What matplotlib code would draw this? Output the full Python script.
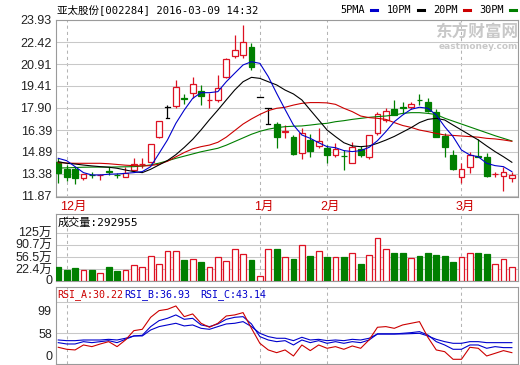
import matplotlib
matplotlib.use('Agg')
import matplotlib.pyplot as plt
from matplotlib.patches import Rectangle
from matplotlib.lines import Line2D

# daily candles, 2015-11-30 .. 2016-03-09
opens = [14.22, 13.70, 13.70, 13.08, 13.33, 13.29, 13.56, 13.33, 13.19, 13.65,
         14.04, 14.22, 15.94, 17.95, 18.04, 18.58, 18.91, 19.06, 18.42, 18.45,
         20.00, 21.49, 21.53, 22.06, 18.63, 17.88, 16.80, 16.26, 15.94, 14.79,
         15.71, 15.30, 15.14, 14.68, 14.63, 14.15, 15.07, 14.56, 16.16, 17.08,
         17.81, 17.97, 17.95, 18.47, 18.33, 17.65, 15.98, 14.68, 13.19, 13.83,
         14.58, 14.52, 13.36, 13.26, 13.13]
closes = [13.47, 13.19, 13.08, 13.38, 13.29, 13.33, 13.52, 13.29, 13.47, 14.06,
          14.08, 15.43, 17.01, 17.95, 19.36, 18.54, 19.52, 18.72, 18.47, 19.29,
          21.23, 21.87, 22.45, 20.73, 18.63, 17.88, 15.94, 16.30, 14.75, 16.16,
          14.98, 15.66, 14.68, 15.07, 14.59, 15.20, 14.68, 16.05, 17.46, 17.72,
          17.42, 17.93, 18.15, 18.43, 17.72, 15.94, 15.25, 13.72, 13.70, 14.68,
          14.54, 13.24, 13.40, 13.54, 13.31]
highs = [14.45, 13.99, 13.88, 13.38, 13.54, 13.38, 13.88, 13.47, 13.88, 14.45,
         14.45, 15.45, 17.01, 18.10, 19.82, 18.86, 20.00, 19.48, 18.91, 20.16,
         21.30, 22.90, 23.59, 22.33, 18.63, 17.88, 16.96, 16.73, 16.05, 16.51,
         16.12, 16.51, 15.36, 15.52, 15.02, 15.59, 15.30, 16.05, 17.65, 17.88,
         18.45, 18.33, 18.33, 18.86, 18.56, 17.81, 16.16, 15.02, 14.15, 14.91,
         15.75, 14.79, 13.54, 13.88, 13.54]
lows = [12.78, 12.90, 12.67, 12.97, 13.08, 12.99, 13.31, 13.08, 13.19, 13.54,
        13.77, 14.15, 15.82, 17.19, 17.88, 18.17, 18.56, 18.10, 17.88, 18.33,
        19.93, 21.30, 21.30, 20.50, 18.63, 16.80, 15.14, 15.82, 14.68, 14.38,
        14.52, 15.14, 14.15, 14.56, 13.65, 14.11, 14.56, 14.38, 16.05, 16.96,
        17.42, 17.53, 17.81, 18.10, 17.65, 15.89, 14.56, 13.65, 12.74, 13.47,
        14.52, 13.19, 13.19, 12.24, 12.85]

ma5 = [14.45, 14.29, 13.88, 13.47, 13.31, 13.31, 13.36, 13.38, 13.42, 13.47,
       13.54, 13.88, 14.79, 15.71, 16.85, 17.76, 18.56, 18.95, 18.95, 19.02,
       19.70, 20.28, 20.85, 21.07, 20.96, 20.05, 18.90, 17.80, 16.73, 16.05,
       15.82, 15.52, 15.25, 15.18, 14.98, 14.91, 14.98, 15.20, 15.66, 16.28,
       16.96, 17.42, 17.81, 17.95, 17.88, 17.42, 16.62, 15.94, 15.02, 14.68,
       14.56, 14.11, 13.95, 13.88, 13.54]
ma10 = [14.22, 14.11, 14.06, 13.99, 13.93, 13.88, 13.84, 13.77, 13.65, 13.54,
        13.47, 13.70, 14.00, 14.30, 14.70, 15.20, 15.75, 16.40, 17.10, 17.76,
        18.45, 19.13, 19.70, 20.00, 19.93, 19.70, 19.48, 19.13, 18.86, 18.45,
        17.76, 17.08, 16.39, 15.94, 15.52, 15.30, 15.25, 15.30, 15.48, 15.70,
        15.95, 16.25, 16.55, 16.90, 17.12, 17.19, 17.08, 16.73, 16.39, 16.05,
        15.71, 15.30, 14.91, 14.56, 14.18]
ma20 = [14.15, 14.13, 14.11, 14.11, 14.11, 14.11, 14.08, 14.03, 13.98, 13.95,
        13.93, 13.95, 14.05, 14.25, 14.55, 14.85, 15.10, 15.25, 15.36, 15.55,
        15.90, 16.35, 16.80, 17.15, 17.46, 17.72, 17.88, 17.95, 18.10, 18.22,
        18.27, 18.27, 18.25, 18.15, 17.88, 17.65, 17.35, 17.24, 17.19, 17.12,
        16.90, 16.70, 16.57, 16.39, 16.28, 16.16, 16.05, 16.02, 15.98, 15.94,
        15.90, 15.82, 15.78, 15.71, 15.62]
ma30 = [13.78, 13.80, 13.82, 13.84, 13.85, 13.85, 13.85, 13.86, 13.87, 13.88,
        13.92, 14.00, 14.12, 14.28, 14.45, 14.60, 14.75, 14.90, 15.02, 15.14,
        15.35, 15.60, 15.85, 16.10, 16.30, 16.45, 16.55, 16.62, 16.65, 16.67,
        16.73, 16.80, 16.85, 16.96, 17.03, 17.12, 17.19, 17.26, 17.31, 17.35,
        17.42, 17.53, 17.58, 17.58, 17.53, 17.45, 17.20, 17.00, 16.80, 16.60,
        16.40, 16.20, 16.00, 15.82, 15.64]

# volume in 万
volume = [27.4, 20.8, 24.6, 18.1, 20.8, 11.2, 27.2, 15.5, 18.1, 32.6,
          27.2, 60.3, 36.8, 72.1, 72.1, 46.4, 49.2, 41.6, 27.2, 57.6,
          44.3, 77.4, 63.5, 46.4, 3.7, 77.4, 77.4, 57.6, 50.7, 90.8,
          60.3, 72.1, 55.7, 57.6, 57.6, 67.8, 36.8, 62.5, 110.5, 77.4,
          67.8, 67.8, 52.8, 60.3, 67.8, 62.5, 60.3, 43.2, 57.6, 67.8,
          67.8, 65.2, 36.8, 50.7, 29.3]

rsi_a = [32.7, 29.1, 27.9, 36.9, 33.9, 38.7, 42.9, 33.9, 45.9, 62.8,
         65.2, 86.9, 99.0, 101.4, 107.4, 88.1, 93.0, 76.1, 68.9, 76.1,
         89.3, 91.2, 95.4, 67.0, 39.9, 27.9, 23.0, 27.9, 17.0, 36.9,
         26.7, 36.9, 30.9, 33.9, 29.1, 35.1, 30.9, 46.0, 68.9, 70.1,
         67.0, 73.1, 76.1, 79.1, 50.8, 27.9, 24.8, 11.0, 11.0, 32.7,
         30.9, 17.0, 21.8, 26.7, 23.0]
rsi_b = [41.1, 38.7, 38.7, 42.9, 41.1, 42.9, 44.7, 41.1, 47.1, 53.2,
         54.4, 70.1, 80.9, 85.1, 91.2, 83.3, 85.1, 73.1, 70.1, 74.9,
         83.3, 86.9, 88.1, 74.9, 52.0, 45.9, 42.9, 44.7, 36.9, 45.9,
         41.1, 44.7, 39.9, 42.9, 39.9, 42.9, 41.1, 45.9, 56.8, 56.8,
         56.8, 58.0, 59.2, 61.0, 55.0, 42.9, 36.9, 29.1, 29.1, 36.9,
         36.9, 30.9, 33.9, 32.1, 32.1]
rsi_c = [45.9, 44.7, 44.7, 45.9, 45.9, 45.9, 47.1, 45.9, 49.0, 53.2,
         53.2, 64.0, 70.1, 73.1, 76.1, 71.3, 73.1, 67.0, 65.2, 70.1,
         74.9, 76.1, 79.1, 70.1, 58.0, 52.0, 49.0, 49.0, 44.7, 50.8,
         45.9, 47.1, 44.7, 45.9, 44.7, 47.1, 45.9, 49.0, 56.8, 56.8,
         56.8, 56.8, 57.4, 58.0, 53.2, 47.1, 42.9, 39.9, 39.9, 42.9,
         42.9, 41.1, 41.1, 41.1, 41.1]

price_ticks = [11.87, 13.38, 14.89, 16.39, 17.90, 19.41, 20.91, 22.42, 23.93]
vol_ticks = [22.4, 56.5, 90.7, 125]
vol_labels = ['22.4万', '56.5万', '90.7万', '125万']
rsi_ticks = [58, 99]
month_pos = [1, 24, 32, 48]
month_labels = ['12月', '1月', '2月', '3月']

RED = '#dd1122'
GREEN = '#007f00'
BLUE = '#0000cc'
GRID = '#c8c8c8'
FRAME = '#9a9a9a'
CJK = ['Liberation Sans', 'Noto Sans CJK SC']
MONO = ['DejaVu Sans Mono', 'Noto Sans CJK SC']

W, H = 520.0, 365.0
fig = plt.figure(figsize=(W / 100, H / 100), dpi=100)


def box(l, t, r, b):
    return [l / W, 1 - b / H, (r - l) / W, (b - t) / H]


def style(ax):
    ax.set_xlim(-0.27, 54.73)
    for s in ax.spines.values():
        s.set_color(FRAME)
        s.set_linewidth(0.8)
    ax.tick_params(length=0, pad=3, labelsize=9, colors='#222222')
    ax.set_xticks([])
    for m in month_pos:
        ax.axvline(m, color='#b4b4b4', lw=0.75, ls=(0, (3, 3)), zorder=0)


n = len(closes)
xs = list(range(n))
bw = 0.7

# ---- price panel
ax = fig.add_axes(box(56, 20, 518, 197))
style(ax)
ax.set_ylim(11.80, 23.93)
ax.set_yticks(price_ticks)
ax.set_yticklabels(['%.2f' % t for t in price_ticks], family=CJK)
for t in price_ticks:
    ax.axhline(t, color=GRID, lw=0.75, zorder=0)

for i in xs:
    o, c, h, l = opens[i], closes[i], highs[i], lows[i]
    if c > o:
        col, face = RED, 'white'
    elif c < o:
        col, face = GREEN, GREEN
    else:
        col, face = 'black', 'black'
    ax.plot([i, i], [l, h], color=col, lw=0.9, zorder=3, solid_capstyle='butt')
    if c == o:
        ax.plot([i - bw / 2, i + bw / 2], [o, o], color=col, lw=0.9, zorder=4)
        if l < o:
            ax.plot([i - bw / 3, i + bw / 3], [l, l], color=col, lw=0.9, zorder=4)
    else:
        ax.add_patch(Rectangle((i - bw / 2, min(o, c)), bw, abs(c - o),
                               facecolor=face, edgecolor=col, lw=0.9, zorder=4))

ax.plot(xs, ma30, color=GREEN, lw=0.8, zorder=5)
ax.plot(xs, ma20, color='#cc0000', lw=0.8, zorder=5)
ax.plot(xs, ma10, color='black', lw=0.8, zorder=5)
ax.plot(xs, ma5, color=BLUE, lw=0.8, zorder=5)

ax.text(1.0, 0.93, '东方财富网', transform=ax.transAxes, ha='right', va='center',
        fontsize=12, fontweight='bold', color='#c8c8c8', family=CJK, zorder=1)
ax.text(1.0, 0.85, 'eastmoney.com', transform=ax.transAxes, ha='right',
        va='center', fontsize=6.5, fontweight='bold', color='#c8c8c8', zorder=1)

for m, lab in zip(month_pos, month_labels):
    ax.text(m - 0.75, -0.055, lab, transform=ax.get_xaxis_transform(),
            ha='left', va='center', fontsize=9, color='#cc0000', family=CJK)

# ---- volume panel
ax2 = fig.add_axes(box(56, 214, 518, 281))
style(ax2)
ax2.set_ylim(-11.6, 177.7)
vfloor = ax2.get_ylim()[0]
ax2.set_yticks(vol_ticks)
ax2.set_yticklabels(vol_labels, family=CJK)
ax2.text(-0.008, 0.0, '0', transform=ax2.transAxes, ha='right', va='center',
         fontsize=9, color='#222222', family=CJK)
for t in vol_ticks:
    ax2.axhline(t, color=GRID, lw=0.75, zorder=0)
for i in xs:
    if closes[i] >= opens[i]:
        ax2.bar(i, volume[i] - vfloor, bw, bottom=vfloor, facecolor='white',
                edgecolor=RED, lw=0.9, zorder=3)
    else:
        ax2.bar(i, volume[i] - vfloor, bw, bottom=vfloor, facecolor=GREEN,
                edgecolor=GREEN, lw=0.9, zorder=3)
ax2.text(0.003, 0.88, '成交量:292955', transform=ax2.transAxes, ha='left',
         va='center', fontsize=8, family=MONO, color='black')

# ---- RSI panel
ax3 = fig.add_axes(box(56, 287, 518, 363.5))
style(ax3)
ax3.set_ylim(3.4, 141.7)
ax3.set_yticks(rsi_ticks)
ax3.set_yticklabels([str(t) for t in rsi_ticks], family=CJK)
ax3.axhline(58, color=GRID, lw=0.75, zorder=0)
ax3.axhline(115, color=GRID, lw=0.75, zorder=0)
ax3.text(-0.008, 0.0, '0', transform=ax3.transAxes, ha='right', va='bottom',
         fontsize=9, color='#222222', family=CJK)
ax3.plot(xs, rsi_c, color=BLUE, lw=0.8, zorder=4)
ax3.plot(xs, rsi_b, color=BLUE, lw=0.8, zorder=4)
ax3.plot(xs, rsi_a, color='#cc0000', lw=0.8, zorder=5)
hy = 0.905
ax3.text(0.003, hy, 'RSI_A:30.22', transform=ax3.transAxes, ha='left', va='center',
         fontsize=7.2, family=MONO, color='#cc0000')
ax3.text(0.147, hy, 'RSI_B:36.93', transform=ax3.transAxes, ha='left', va='center',
         fontsize=7.2, family=MONO, color=BLUE)
ax3.text(0.312, hy, 'RSI_C:43.14', transform=ax3.transAxes, ha='left', va='center',
         fontsize=7.2, family=MONO, color=BLUE)

# ---- header: title and MA legend
fig.text(57 / W, 1 - 10 / H, '亚太股份[002284] 2016-03-09 14:32', ha='left',
         va='center', fontsize=7.6, family=MONO)
legend = [('5PMA', BLUE, 340), ('10PM', 'black', 387), ('20PM', '#cc0000', 433),
          ('30PM', GREEN, 479)]
for lab, col, x0 in legend:
    fig.text(x0 / W, 1 - 10 / H, lab, ha='left', va='center', fontsize=7.4,
             family=MONO)
    x1 = x0 + 31
    fig.add_artist(Line2D([x1 / W, (x1 + 6) / W], [1 - 10 / H, 1 - 10 / H],
                          color=col, lw=2.2, transform=fig.transFigure))

fig.savefig('out.png', dpi=100)
